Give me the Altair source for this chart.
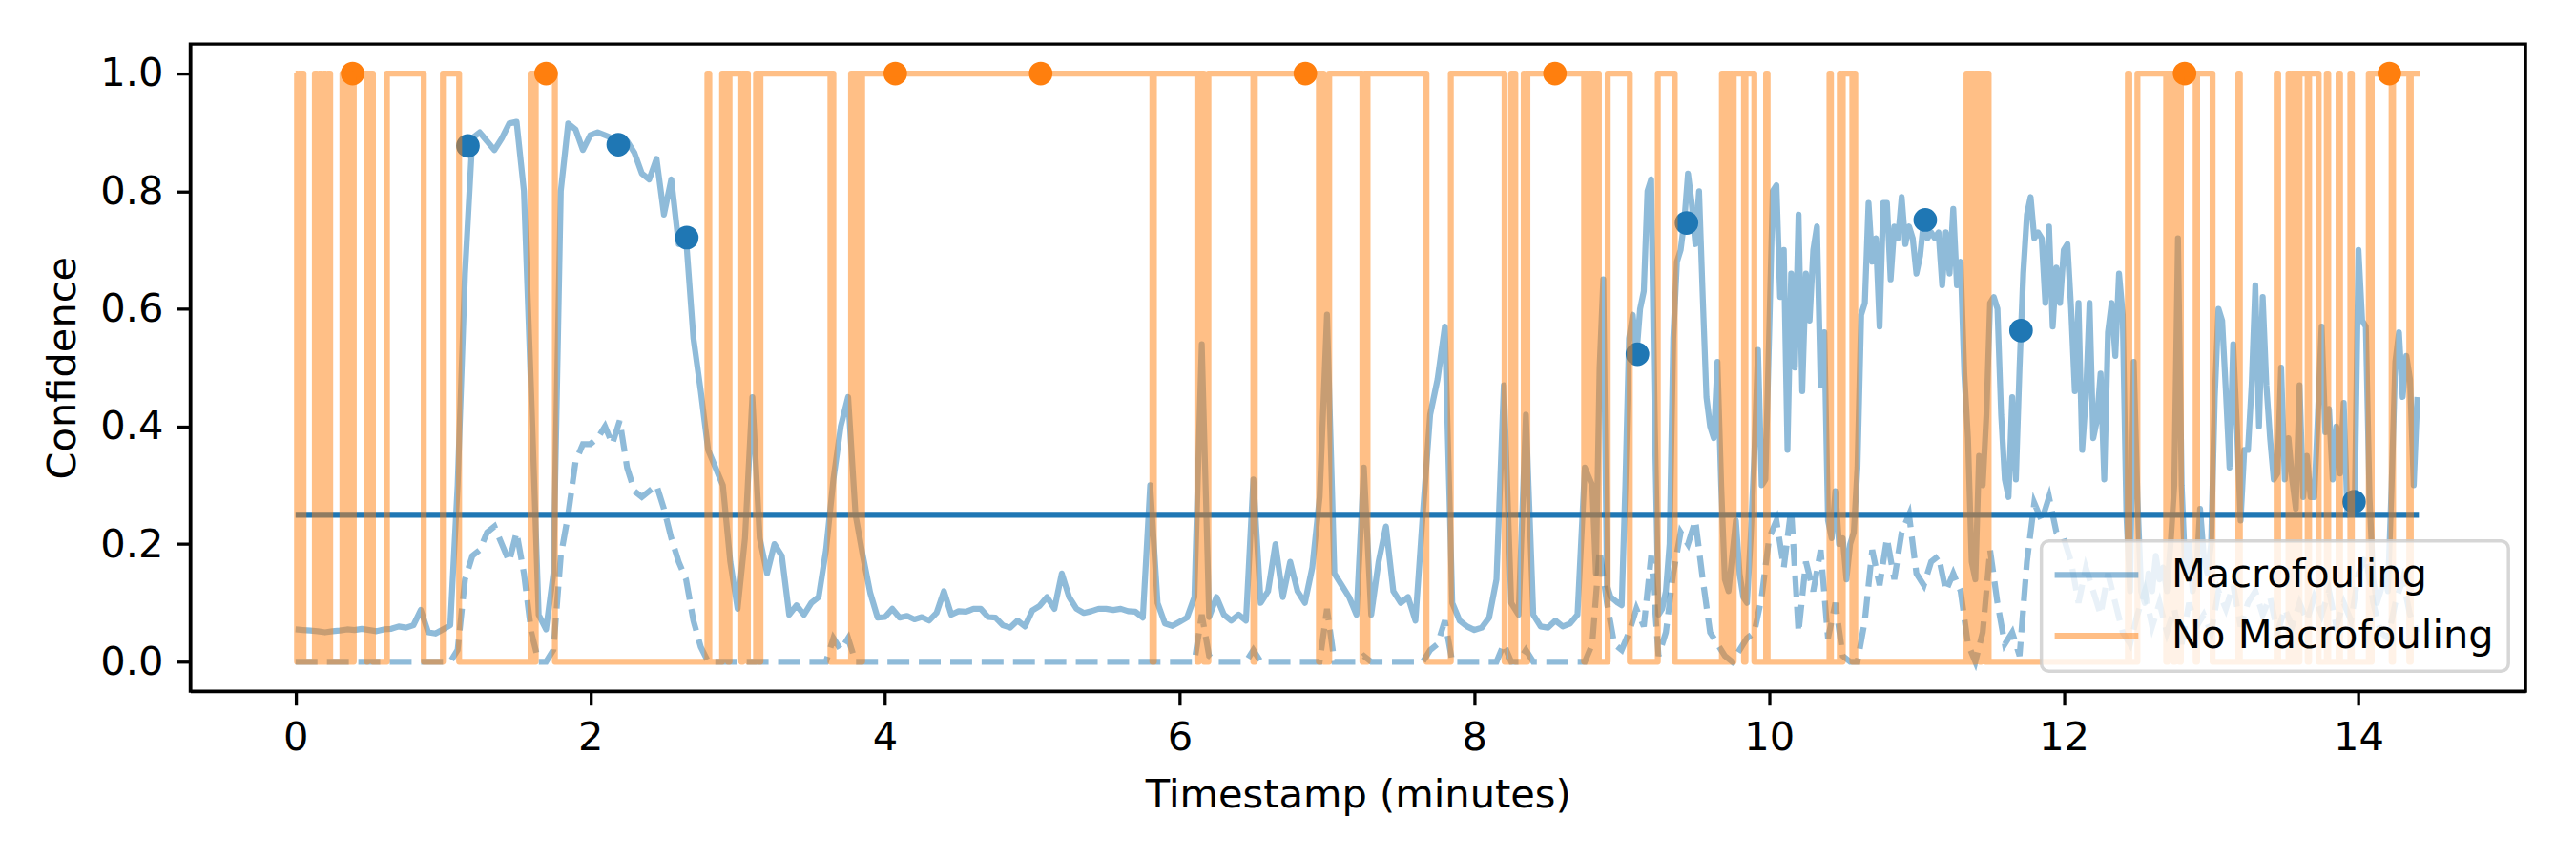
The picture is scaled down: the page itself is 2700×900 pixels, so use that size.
import altair as alt
import pandas as pd

# ---------------- data ----------------
# Macrofouling confidence (solid blue)
# part A: t = 0.00 .. 8.75 every 0.05 min
macro_a = [
    0.055, 0.054, 0.053, 0.052, 0.050, 0.052, 0.053, 0.055, 0.054, 0.056,
    0.054, 0.052, 0.055, 0.056, 0.060, 0.058, 0.062, 0.088, 0.050, 0.048,
    0.055, 0.062, 0.30, 0.66, 0.89, 0.90, 0.885, 0.87, 0.89, 0.915,
    0.918, 0.80, 0.45, 0.08, 0.055, 0.15, 0.80, 0.915, 0.905, 0.87,
    0.895, 0.90, 0.895, 0.89, 0.885, 0.885, 0.865, 0.83, 0.82, 0.855,
    0.76, 0.82, 0.71, 0.72, 0.55, 0.46, 0.36, 0.33, 0.30, 0.17,
    0.09, 0.21, 0.45, 0.21, 0.15, 0.20, 0.18, 0.08, 0.096, 0.08,
    0.10, 0.11, 0.19, 0.31, 0.40, 0.45, 0.25, 0.18, 0.117, 0.075,
    0.076, 0.09, 0.075, 0.078, 0.072, 0.076, 0.07, 0.083, 0.12, 0.08,
    0.086, 0.085, 0.09, 0.09, 0.076, 0.075, 0.062, 0.058, 0.07, 0.06,
    0.087, 0.095, 0.11, 0.09, 0.15, 0.11, 0.09, 0.083, 0.086, 0.09,
    0.09, 0.088, 0.09, 0.086, 0.085, 0.075, 0.30, 0.10, 0.065, 0.061,
    0.068, 0.075, 0.11, 0.54, 0.076, 0.11, 0.08, 0.07, 0.08, 0.07,
    0.31, 0.10, 0.12, 0.20, 0.11, 0.17, 0.12, 0.10, 0.16, 0.28,
    0.59, 0.15, 0.13, 0.11, 0.08, 0.33, 0.08, 0.17, 0.23, 0.12,
    0.10, 0.11, 0.07, 0.25, 0.42, 0.48, 0.57, 0.10, 0.07, 0.06,
    0.054, 0.058, 0.075, 0.14, 0.47, 0.10, 0.08, 0.42, 0.08, 0.06,
    0.058, 0.07, 0.06, 0.065, 0.08, 0.33,
]
# part B: t = 8.800 .. 14.400 every 0.025 min
macro_b = [
    0.30, 0.15, 0.50, 0.65, 0.13, 0.11, 0.105, 0.10,
    0.096, 0.30, 0.55, 0.59, 0.52, 0.60, 0.63, 0.80,
    0.82, 0.40, 0.08, 0.09, 0.12, 0.20, 0.55, 0.68,
    0.70, 0.75, 0.83, 0.78, 0.71, 0.80, 0.62, 0.45,
    0.40, 0.38, 0.51, 0.30, 0.14, 0.12, 0.18, 0.24,
    0.15, 0.11, 0.10, 0.21, 0.35, 0.53, 0.30, 0.31,
    0.55, 0.80, 0.81, 0.62, 0.70, 0.36, 0.66, 0.50,
    0.76, 0.46, 0.66, 0.58, 0.70, 0.74, 0.47, 0.56,
    0.24, 0.21, 0.29, 0.20, 0.21, 0.14, 0.20, 0.22,
    0.33, 0.59, 0.61, 0.78, 0.68, 0.72, 0.57, 0.78,
    0.78, 0.65, 0.74, 0.72, 0.79, 0.71, 0.74, 0.72,
    0.66, 0.69, 0.75, 0.72, 0.73, 0.72, 0.73, 0.64,
    0.73, 0.66, 0.77, 0.64, 0.68, 0.49, 0.38, 0.17,
    0.14, 0.35, 0.30, 0.42, 0.61, 0.62, 0.60, 0.42,
    0.31, 0.28, 0.45, 0.31, 0.50, 0.66, 0.76, 0.79,
    0.72, 0.73, 0.72, 0.61, 0.74, 0.57, 0.67, 0.61,
    0.70, 0.71, 0.60, 0.46, 0.61, 0.36, 0.45, 0.61,
    0.38, 0.41, 0.49, 0.31, 0.56, 0.61, 0.52, 0.66,
    0.59, 0.25, 0.12, 0.51, 0.28, 0.12, 0.10, 0.15,
    0.12, 0.18, 0.14, 0.16, 0.12, 0.20, 0.30, 0.72,
    0.30, 0.15, 0.20, 0.12, 0.15, 0.26, 0.18, 0.15,
    0.20, 0.45, 0.60, 0.58, 0.46, 0.33, 0.54, 0.40,
    0.24, 0.36, 0.36, 0.47, 0.64, 0.40, 0.62, 0.47,
    0.38, 0.31, 0.32, 0.50, 0.31, 0.38, 0.31, 0.26,
    0.47, 0.28, 0.35, 0.28, 0.28, 0.42, 0.57, 0.39,
    0.43, 0.31, 0.40, 0.32, 0.44, 0.25, 0.26, 0.27,
    0.70, 0.58, 0.57, 0.28, 0.14, 0.10, 0.12, 0.15,
    0.12, 0.30, 0.51, 0.56, 0.45, 0.52, 0.48, 0.30,
    0.45,
]

# second (dashed) confidence trace, t = 0.00 .. 14.40 every 0.05 min
dashed_trace = [
    0, 0, 0, 0, 0, 0, 0, 0, 0, 0,
    0, 0, 0, 0, 0, 0, 0, 0, 0, 0,
    0, 0, 0.02, 0.14, 0.18, 0.19, 0.22, 0.23, 0.20, 0.17,
    0.22, 0.15, 0.05, 0.0, 0.0, 0.02, 0.18, 0.25, 0.34, 0.37,
    0.37, 0.38, 0.40, 0.37, 0.41, 0.33, 0.29, 0.28, 0.29, 0.30,
    0.26, 0.21, 0.17, 0.14, 0.07, 0.025, 0, 0, 0, 0,
    0, 0, 0, 0, 0, 0, 0, 0, 0, 0,
    0, 0, 0, 0.04, 0.02, 0.04, 0, 0, 0, 0,
    0, 0, 0, 0, 0, 0, 0, 0, 0, 0,
    0, 0, 0, 0, 0, 0, 0, 0, 0, 0,
    0, 0, 0, 0, 0, 0, 0, 0, 0, 0,
    0, 0, 0, 0, 0, 0, 0, 0, 0, 0,
    0, 0, 0, 0.08, 0.01, 0, 0, 0, 0, 0,
    0.02, 0, 0, 0, 0, 0, 0, 0, 0, 0,
    0.09, 0, 0, 0, 0, 0.01, 0, 0, 0, 0,
    0, 0, 0, 0, 0.02, 0.03, 0.07, 0, 0, 0,
    0, 0, 0, 0, 0.03, 0, 0, 0.02, 0, 0,
    0, 0, 0, 0, 0, 0, 0.03, 0.19, 0.10, 0.03,
    0.02, 0.05, 0.09, 0.06, 0.18, 0.01, 0.05, 0.15, 0.22, 0.20,
    0.24, 0.14, 0.05, 0.03, 0.01, 0, 0.02, 0.04, 0.05, 0.11,
    0.21, 0.24, 0.16, 0.26, 0.05, 0.17, 0.12, 0.19, 0.04, 0.10,
    0.01, 0, 0, 0.07, 0.19, 0.13, 0.21, 0.14, 0.22, 0.25,
    0.15, 0.13, 0.17, 0.18, 0.12, 0.15, 0.12, 0.03, 0, 0.05,
    0.19, 0.10, 0.03, 0.05, 0.01, 0.17, 0.27, 0.24, 0.28, 0.22,
    0.21, 0.17, 0.10, 0.16, 0.12, 0.08, 0.15, 0.10, 0.05, 0.03,
    0.08, 0.12, 0.06, 0.10, 0.05, 0.09, 0.03, 0.10, 0.06, 0.08,
    0.05, 0.12, 0.09, 0.13, 0.06, 0.10, 0.12, 0.08, 0.11, 0.05,
    0.09, 0.06, 0.10, 0.07, 0.11, 0.08, 0.12, 0.06, 0.10, 0.07,
    0.15, 0.18, 0.10, 0.05, 0.04, 0.10, 0.14, 0.08, 0.05,
]

# "No Macrofouling" binary prediction: intervals (minutes) where it equals 1
no_macro_on = [
    (0.0, 0.01), (0.022, 0.032), (0.044, 0.054),
    (0.131, 0.145), (0.16, 0.175), (0.19, 0.205), (0.22, 0.235),
    (0.318, 0.33), (0.345, 0.36), (0.372, 0.382), (0.395, 0.484),
    (0.489, 0.525), (0.62, 0.87), (1.0, 1.11), (1.595, 1.61), (1.63, 1.76),
    (2.795, 2.808), (2.895, 2.935), (2.945, 3.025), (3.035, 3.07),
    (3.125, 3.145), (3.155, 3.63), (3.64, 3.65), (3.77, 3.785),
    (3.795, 3.81), (3.82, 3.835), (3.845, 5.815), (5.825, 6.12),
    (6.13, 6.165), (6.195, 6.50), (6.51, 6.945), (6.955, 6.977),
    (7.015, 7.24), (7.255, 7.265), (7.275, 7.675), (7.84, 8.205),
    (8.25, 8.278), (8.335, 8.34), (8.36, 8.745), (8.755, 8.765),
    (8.775, 8.785), (8.795, 8.805), (8.815, 8.825), (8.835, 8.845),
    (8.905, 9.055), (9.245, 9.36), (9.68, 9.69), (9.70, 9.71),
    (9.72, 9.73), (9.74, 9.75), (9.76, 9.83), (9.84, 9.90),
    (9.98, 9.99), (10.41, 10.42), (10.48, 10.49), (10.50, 10.565),
    (10.575, 10.585), (11.34, 11.35), (11.36, 11.37), (11.38, 11.39),
    (11.40, 11.43), (11.44, 11.47), (11.48, 11.49), (12.435, 12.445),
    (12.50, 12.695), (12.705, 12.745), (12.755, 12.785), (12.795, 12.895),
    (12.905, 13.01), (13.185, 13.195), (13.445, 13.455), (13.525, 13.54),
    (13.55, 13.565), (13.575, 13.59), (13.60, 13.655), (13.665, 13.73),
    (13.785, 13.795), (13.865, 13.875), (13.945, 13.955), (14.07, 14.08),
    (14.09, 14.225), (14.235, 14.345), (14.355, 14.42),
]
SERIES_END = 14.42

# highlighted samples
blue_pts_t = [1.17, 2.19, 2.655, 9.107, 9.44, 11.06, 11.71, 13.97]
blue_pts_v = [0.877, 0.879, 0.721, 0.523, 0.746, 0.751, 0.563, 0.272]
orange_pts_t = [0.387, 1.70, 4.07, 5.057, 6.853, 8.547, 12.82, 14.21]
orange_pts_v = [1, 1, 1, 1, 1, 1, 1, 1]

threshold = 0.25
threshold_span = (0.0, 14.41)

x_ticks = [0, 2, 4, 6, 8, 10, 12, 14]
y_ticks = [0.0, 0.2, 0.4, 0.6, 0.8, 1.0]
series_names = ["Macrofouling", "No Macrofouling"]
C0, C1 = "#1f77b4", "#ff7f0e"

# ---------------- tables ----------------
t_a = [round(i * 0.05, 3) for i in range(len(macro_a))]
t_b = [round(8.8 + i * 0.025, 3) for i in range(len(macro_b))]
df_macro = pd.DataFrame({"t": t_a + t_b, "v": macro_a + macro_b, "series": series_names[0]})
df_dash = pd.DataFrame({"t": [round(i * 0.05, 3) for i in range(len(dashed_trace))], "v": dashed_trace})

rows = []
if no_macro_on[0][0] > 0:
    rows.append((0.0, 0))
for a, b in no_macro_on:
    if a > 0:
        rows.append((a, 0))
    rows.append((a, 1))
    rows.append((b, 1))
    if b < SERIES_END:
        rows.append((b, 0))
df_nm = pd.DataFrame(rows, columns=["t", "v"])
df_nm["i"] = range(len(df_nm))
df_nm["series"] = series_names[1]

df_bp = pd.DataFrame({"t": blue_pts_t, "v": blue_pts_v})
df_op = pd.DataFrame({"t": orange_pts_t, "v": orange_pts_v})
df_thr = pd.DataFrame({"x0": [threshold_span[0]], "x1": [threshold_span[1]], "y": [threshold]})

# ---------------- chart ----------------
FS = 41.7
LW = 6.25
FONT = "DejaVu Sans"

xs = alt.Scale(domain=[-0.7146, 15.134], nice=False, zero=False)
ys = alt.Scale(domain=[-0.05, 1.05], nice=False, zero=False)
xax = alt.Axis(values=x_ticks, title="Timestamp (minutes)", format="d")
yax = alt.Axis(values=y_ticks, title="Confidence", format=".1f")

color = alt.Color(
    "series:N",
    scale=alt.Scale(domain=series_names, range=[C0, C1]),
    legend=alt.Legend(
        title=None,
        orient="none",
        legendX=1946,
        legendY=522,
        symbolType="M-4.37,0H13.23",
        symbolSize=100,
        symbolStrokeWidth=LW,
        symbolOpacity=0.5,
        labelFontSize=FS,
        labelFont=FONT,
        labelColor="black",
        labelLimit=1000,
        labelOffset=80,
        rowPadding=21,
        padding=15,
        fillColor="rgba(255,255,255,0.8)",
        strokeColor="rgba(204,204,204,0.8)",
        cornerRadius=8,
    ),
)

macro_line = alt.Chart(df_macro).mark_line(
    strokeWidth=LW, opacity=0.5, strokeJoin="round"
).encode(
    x=alt.X("t:Q", scale=xs, axis=xax),
    y=alt.Y("v:Q", scale=ys, axis=yax),
    color=color,
)

dash_line = alt.Chart(df_dash).mark_line(
    strokeWidth=LW, opacity=0.5, strokeDash=[23, 10], color=C0
).encode(x=alt.X("t:Q", scale=xs), y=alt.Y("v:Q", scale=ys))

thr_line = alt.Chart(df_thr).mark_rule(strokeWidth=LW, color=C0).encode(
    x=alt.X("x0:Q", scale=xs), x2="x1:Q", y=alt.Y("y:Q", scale=ys)
)

blue_dots = alt.Chart(df_bp).mark_circle(size=616, opacity=1, color=C0).encode(
    x=alt.X("t:Q", scale=xs), y=alt.Y("v:Q", scale=ys)
)
orange_dots = alt.Chart(df_op).mark_circle(size=616, opacity=1, color=C1).encode(
    x=alt.X("t:Q", scale=xs), y=alt.Y("v:Q", scale=ys)
)

nm_line = alt.Chart(df_nm).mark_line(
    strokeWidth=LW, opacity=0.5, strokeJoin="round"
).encode(
    x=alt.X("t:Q", scale=xs),
    y=alt.Y("v:Q", scale=ys),
    order=alt.Order("i:Q"),
    color=color,
)

chart = (
    alt.layer(macro_line, dash_line, thr_line, blue_dots, orange_dots, nm_line)
    .properties(
        width=2455,
        height=680,
        autosize=alt.AutoSizeParams(type="none"),
        padding={"left": 192, "top": 37, "right": 45, "bottom": 160},
    )
    .configure_view(stroke="black", strokeWidth=3.3)
    .configure_axis(
        grid=False,
        domainColor="black",
        domainWidth=3.3,
        tickColor="black",
        tickWidth=3.3,
        tickSize=14.6,
        labelFont=FONT,
        labelFontSize=FS,
        labelColor="black",
        labelPadding=14,
        titleFont=FONT,
        titleFontSize=FS,
        titleFontWeight="normal",
        titleColor="black",
    )
    .configure_axisX(titlePadding=18)
    .configure_axisY(titlePadding=17)
    .configure_legend(strokeWidth=3.5)
)

chart.save("out.html", embed_options={"renderer": "svg", "actions": False})
